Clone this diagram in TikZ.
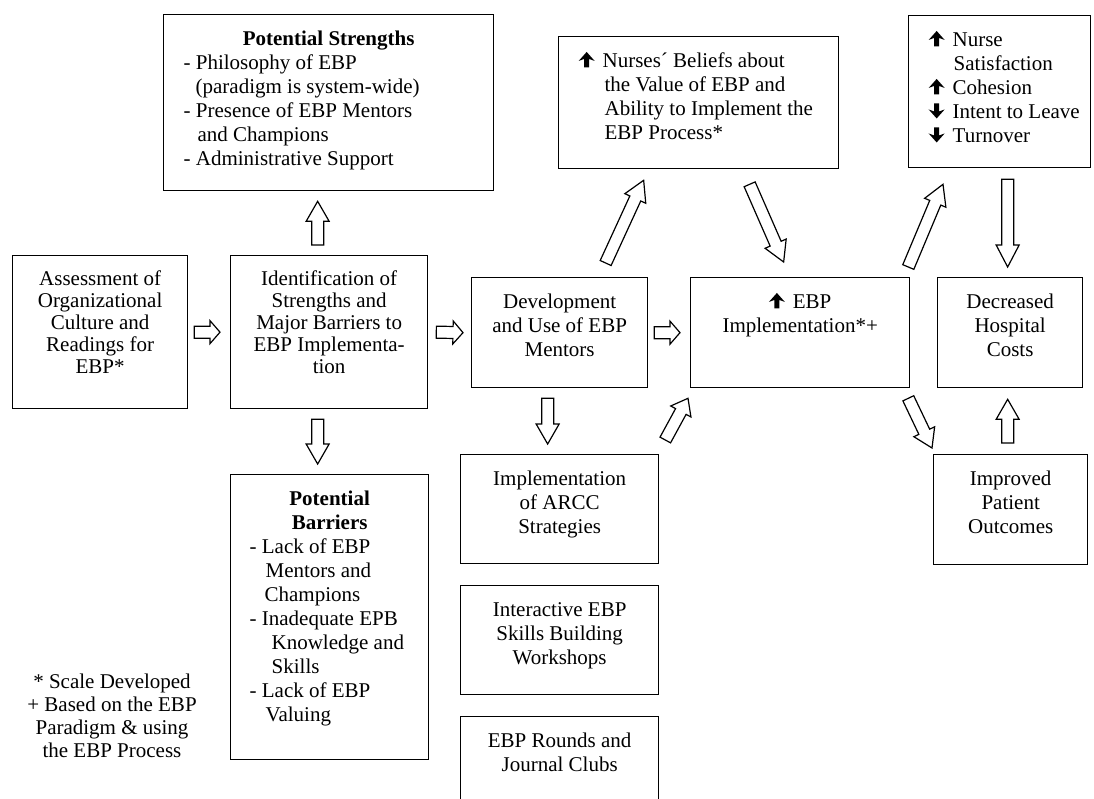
\documentclass[tikz,border=0pt]{standalone}
\usepackage{fontspec}
\setmainfont{Liberation Serif}
\usetikzlibrary{calc}

% bold arrow marks used in the text
\newcommand{\upglyph}{\tikz[baseline=0pt,x=1pt,y=1pt]\fill[black] (-2.5,0) -- (-2.5,8.5) -- (-8,6.5) -- (0,15.5) -- (8,6.5) -- (2.5,8.5) -- (2.5,0) -- cycle;}
\newcommand{\downglyph}{\tikz[baseline=0pt,x=1pt,y=1pt]\fill[black] (-2.5,15) -- (-2.5,7) -- (-8,9) -- (0,0) -- (8,9) -- (2.5,7) -- (2.5,15) -- cycle;}

% centred box text, top aligned: [baselineskip]{width}{height}{text}
\newcommand{\boxtext}[4][24pt]{\parbox[c][#3][t]{#2}{\fontsize{21}{#1}\selectfont\vspace*{14pt}\centering\strut #4\par}}

\tikzset{
  every node/.style={font=\fontsize{21}{24}\selectfont},
  stage/.style={draw=black, line width=1.3pt, inner sep=0pt, anchor=north west},
  hollow/.style={draw=black, fill=white, line width=1.2pt, line join=miter,
    to path={
      ($(\tikztostart)!6pt!90:(\tikztotarget)$)
      -- ($(\tikztotarget)!#1!(\tikztostart)!6pt!-90:(\tikztostart)$)
      -- ($(\tikztotarget)!#1!(\tikztostart)!11.5pt!-90:(\tikztostart)$)
      -- (\tikztotarget)
      -- ($(\tikztotarget)!#1!(\tikztostart)!11.5pt!90:(\tikztostart)$)
      -- ($(\tikztotarget)!#1!(\tikztostart)!6pt!90:(\tikztostart)$)
      -- ($(\tikztostart)!6pt!-90:(\tikztotarget)$)
      -- cycle}},
}

\begin{document}
\begin{tikzpicture}[x=1pt, y=-1pt]
\clip (0,0) rectangle (1094,798);

% ---------- boxes ----------
\node[stage] (strengths) at (163,14) {\parbox[c][176pt][t]{330pt}{\vspace*{14pt}%
  {\centering\strut\textbf{Potential Strengths}\par}%
  \raggedright\leftskip=20pt
  - Philosophy of EBP\\
  \hspace*{12pt}(paradigm is system-wide)\\
  - Presence of EBP Mentors\\
  \hspace*{14pt}and Champions\\
  - Administrative Support\par}};

\node[stage] (nurses) at (558,36) {\parbox[c][132pt][t]{280pt}{\vspace*{14pt}%
  \raggedright\leftskip=20pt
  \strut\upglyph\hspace{8pt}Nurses´ Beliefs about\\
  \hspace*{26pt}the Value of EBP and\\
  \hspace*{26pt}Ability to Implement the\\
  \hspace*{26pt}EBP Process*\par}};

\node[stage] (staff) at (908,15) {\parbox[c][152pt][t]{182pt}{\vspace*{14pt}%
  \raggedright\leftskip=20pt
  \strut\upglyph\hspace{8pt}Nurse\\
  \hspace*{25pt}Satisfaction\\
  \upglyph\hspace{8pt}Cohesion\\
  \downglyph\hspace{8pt}Intent to Leave\\
  \downglyph\hspace{8pt}Turnover\par}};

\node[stage] (assess) at (12,255) {\boxtext[22pt]{175pt}{153pt}{Assessment of\\Organizational\\Culture and\\Readings for\\EBP*}};
\node[stage] (ident) at (230,255) {\boxtext[22pt]{197pt}{153pt}{Identification of\\Strengths and\\Major Barriers to\\EBP Implementa-\\tion}};
\node[stage] (dev) at (471,277) {\boxtext{176pt}{110pt}{Development\\and Use of EBP\\Mentors}};
\node[stage] (impl) at (690,277) {\boxtext{219pt}{110pt}{\upglyph\hspace{8pt}EBP\\Implementation*+}};
\node[stage] (costs) at (937,277) {\boxtext{145pt}{110pt}{Decreased\\Hospital\\Costs}};
\node[stage] (improved) at (933,454) {\boxtext{154pt}{110pt}{Improved\\Patient\\Outcomes}};
\node[stage] (arcc) at (460,454) {\boxtext{198pt}{109pt}{Implementation\\of ARCC\\Strategies}};
\node[stage] (workshops) at (460,585) {\boxtext{198pt}{109pt}{Interactive EBP\\Skills Building\\Workshops}};
\node[stage] (rounds) at (460,716) {\boxtext{198pt}{110pt}{EBP Rounds and\\Journal Clubs}};

\node[stage] (barriers) at (230,474) {\parbox[c][285pt][t]{198pt}{\vspace*{14pt}%
  {\centering\strut\textbf{Potential}\\\textbf{Barriers}\par}%
  \raggedright\leftskip=19pt
  - Lack of EBP\\
  \hspace*{16pt}Mentors and\\
  \hspace*{15pt}Champions\\
  - Inadequate EPB\\
  \hspace*{22pt}Knowledge and\\
  \hspace*{22pt}Skills\\
  - Lack of EBP\\
  \hspace*{16pt}Valuing\par}};

% footnote
\node[align=center, anchor=north, inner sep=0pt, font=\fontsize{21}{23}\selectfont] (note) at (112,674)
  {* Scale Developed\\+ Based on the EBP\\Paradigm \& using\\the EBP Process};

% ---------- arrow end points ----------
\coordinate (a1) at ($(assess.east)+(6,0)$);
\coordinate (b1) at ($(ident.west)+(-10,0)$);
\coordinate (a2) at ($(ident.east)+(8,0)$);
\coordinate (b2) at ($(dev.west)+(-8,0)$);
\coordinate (a3) at ($(dev.east)+(6,0)$);
\coordinate (b3) at ($(impl.west)+(-10,0)$);
\coordinate (a4) at ($(ident.north)+(-11.5,-10)$);
\coordinate (b4) at ($(strengths.south)+(-11,10)$);
\coordinate (a5) at ($(ident.south)+(-11.5,10)$);
\coordinate (b5) at ($(barriers.north)+(-12,-10)$);
\coordinate (a6) at ($(dev.south)+(-12,10)$);
\coordinate (b6) at ($(arcc.north)+(-12,-10)$);
\coordinate (a7) at ($(staff.south)+(8,11)$);
\coordinate (b7) at ($(costs.north)+(-2.5,-10)$);
\coordinate (a8) at ($(improved.north)+(-3,-11)$);
\coordinate (b8) at ($(costs.south)+(-2.5,11)$);
\coordinate (a9) at ($(dev.north)+(46,-14)$);
\coordinate (b9) at ($(nurses.south)+(-55,11)$);
\coordinate (a10) at ($(nurses.south)+(51,15)$);
\coordinate (b10) at ($(impl.north)+(-16.5,-15)$);
\coordinate (a11) at ($(arcc.north east)+(6,-14)$);
\coordinate (b11) at ($(impl.south west)+(-2,10)$);
\coordinate (a12) at ($(impl.north east)+(-2,-10)$);
\coordinate (b12) at ($(staff.south west)+(35,16)$);
\coordinate (a13) at ($(impl.south east)+(-2,10)$);
\coordinate (b13) at ($(improved.north west)+(-1,-6)$);

% ---------- block arrows ----------
\draw[hollow=10pt] (a1) to (b1);
\draw[hollow=10pt] (a2) to (b2);
\draw[hollow=10pt] (a3) to (b3);
\draw[hollow=20pt] (a4) to (b4);
\draw[hollow=20pt] (a5) to (b5);
\draw[hollow=20pt] (a6) to (b6);
\draw[hollow=22pt] (a7) to (b7);
\draw[hollow=20pt] (a8) to (b8);
\draw[hollow=20pt] (a9) to (b9);
\draw[hollow=20pt] (a10) to (b10);
\draw[hollow=15pt] (a11) to (b11);
\draw[hollow=20pt] (a12) to (b12);
\draw[hollow=18pt] (a13) to (b13);
\end{tikzpicture}
\end{document}
